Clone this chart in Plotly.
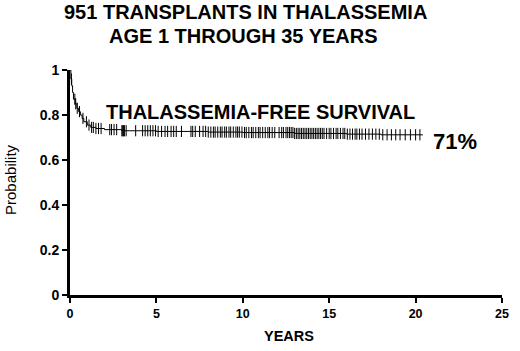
import plotly.graph_objects as go
import numpy as np

# Kaplan-Meier step curve (years, probability)
km_time = [0, 0.05, 0.1, 0.15, 0.2, 0.3, 0.4, 0.5, 0.6, 0.7, 0.8, 1.0, 1.2, 1.5, 2.0, 3.0, 5.0, 8.0, 10.0, 13.0, 16.0, 18.0, 20.4]
km_surv = [1.0, 0.96, 0.93, 0.90, 0.87, 0.85, 0.83, 0.815, 0.80, 0.785, 0.77, 0.755, 0.745, 0.74, 0.735, 0.73, 0.727, 0.724, 0.722, 0.718, 0.715, 0.712, 0.71]

# censored observations (years)
censor_times = [
    0.08, 0.28, 0.33, 0.42, 0.55, 0.75, 0.95, 1.1, 1.25, 1.35, 1.5, 1.65, 1.8,
    2.3, 2.4, 2.55, 2.7, 3.0, 3.05, 3.1, 3.15, 3.25,
    3.8, 4.2, 4.35, 4.5, 4.65, 4.8, 4.95, 5.1, 5.3, 5.5, 5.65, 5.85,
    6.0, 6.15, 6.45, 7.0, 7.1, 7.25,
    7.5, 7.7, 7.85, 8.0, 8.15, 8.3, 8.4, 8.55, 8.7, 8.8, 8.95, 9.05, 9.2, 9.3,
    9.45, 9.6, 9.7, 9.8, 9.95, 10.1, 10.2, 10.35, 10.5, 10.6, 10.75, 10.9, 11.0,
    11.15, 11.3, 11.45, 11.55, 11.7, 11.85,
    12.1, 12.25, 12.35, 12.5, 12.6, 12.7, 12.8, 12.9, 13.0, 13.1, 13.2, 13.3,
    13.4, 13.5, 13.6, 13.7, 13.8, 13.9, 14.0, 14.1, 14.2, 14.3, 14.4, 14.5,
    14.6, 14.7, 14.85, 15.0, 15.1, 15.25, 15.4, 15.5, 15.65, 15.8, 15.9,
    16.05, 16.2, 16.35, 16.5, 16.6, 16.75, 16.9, 17.1, 17.3, 17.5, 17.7,
    17.9, 18.1, 18.35, 18.6, 18.85, 19.1, 19.4, 19.7, 20.0, 20.25,
]

x_ticks = [0, 5, 10, 15, 20, 25]
y_ticks = [0, 0.2, 0.4, 0.6, 0.8, 1]
y_tick_labels = ["0", "0.2", "0.4", "0.6", "0.8", "1"]

title_lines = ["951 TRANSPLANTS IN THALASSEMIA", "AGE 1 THROUGH 35 YEARS"]
curve_label = "THALASSEMIA-FREE SURVIVAL"
final_label = "71%"

# survival at each censor time (step lookup on the curve)
kt = np.array(km_time)
ks = np.array(km_surv)
censor_surv = [float(ks[np.searchsorted(kt, t, side="right") - 1]) for t in censor_times]

FONT = "Liberation Sans, Arial, sans-serif"
L, T, W, H = 70, 70, 439, 225  # plot area in pixels


def px_x(px):
    return (px - L) / W


def px_y(py):
    return (T + H - py) / H


fig = go.Figure()
fig.add_trace(go.Scatter(
    x=km_time, y=km_surv, mode="lines", line_shape="hv",
    line=dict(color="black", width=1), hoverinfo="skip", showlegend=False,
))
fig.add_trace(go.Scatter(
    x=censor_times, y=censor_surv, mode="markers",
    marker=dict(symbol="line-ns-open", size=8, color="black",
                line=dict(color="black", width=1)),
    showlegend=False,
))

annotations = [
    dict(text="<b>" + title_lines[0] + "</b>", x=px_x(248), y=px_y(12)),
    dict(text="<b>" + title_lines[1] + "</b>", x=px_x(246), y=px_y(36)),
]
for a in annotations:
    a.update(xref="paper", yref="paper", showarrow=False, xanchor="center",
             yanchor="middle", font=dict(size=20, family=FONT))

annotations += [
    dict(text="<b>" + curve_label + "</b>", x=px_x(264), y=px_y(112), xref="paper",
         yref="paper", showarrow=False, font=dict(size=20, family=FONT),
         xanchor="center", yanchor="middle"),
    dict(text="<b>" + final_label + "</b>", x=px_x(461), y=px_y(141), xref="paper",
         yref="paper", showarrow=False, font=dict(size=22, family=FONT),
         xanchor="center", yanchor="middle"),
    dict(text="<b>YEARS</b>", x=px_x(293), y=px_y(336), xref="paper", yref="paper",
         showarrow=False, font=dict(size=14.5, family=FONT), xanchor="center",
         yanchor="middle"),
    dict(text="Probability", x=px_x(9), y=px_y(179), xref="paper", yref="paper",
         showarrow=False, textangle=-90, font=dict(size=15, family=FONT),
         xanchor="center", yanchor="middle"),
]

fig.update_layout(
    width=520, height=351,
    margin=dict(l=L, r=520 - L - W, t=T, b=351 - T - H),
    paper_bgcolor="white", plot_bgcolor="white",
    font=dict(family=FONT, color="black"),
    showlegend=False,
    xaxis=dict(
        range=[0, 25], tickvals=x_ticks,
        ticktext=["<b>%d</b>" % v for v in x_ticks],
        showgrid=False, zeroline=False, showline=True, linecolor="black", linewidth=3,
        ticks="outside", ticklen=5, tickwidth=2, tickcolor="black",
        tickfont=dict(size=12.5, family=FONT), fixedrange=True,
    ),
    yaxis=dict(
        range=[0, 1], tickvals=y_ticks,
        ticktext=["<b>%s</b>" % s for s in y_tick_labels],
        showgrid=False, zeroline=False, showline=True, linecolor="black", linewidth=3,
        ticks="outside", ticklen=5, tickwidth=2, tickcolor="black",
        tickfont=dict(size=14, family=FONT), fixedrange=True,
    ),
    annotations=annotations,
)

fig.write_html("out.html", config={"displayModeBar": False},
               post_script="document.body.style.margin='0px';")
